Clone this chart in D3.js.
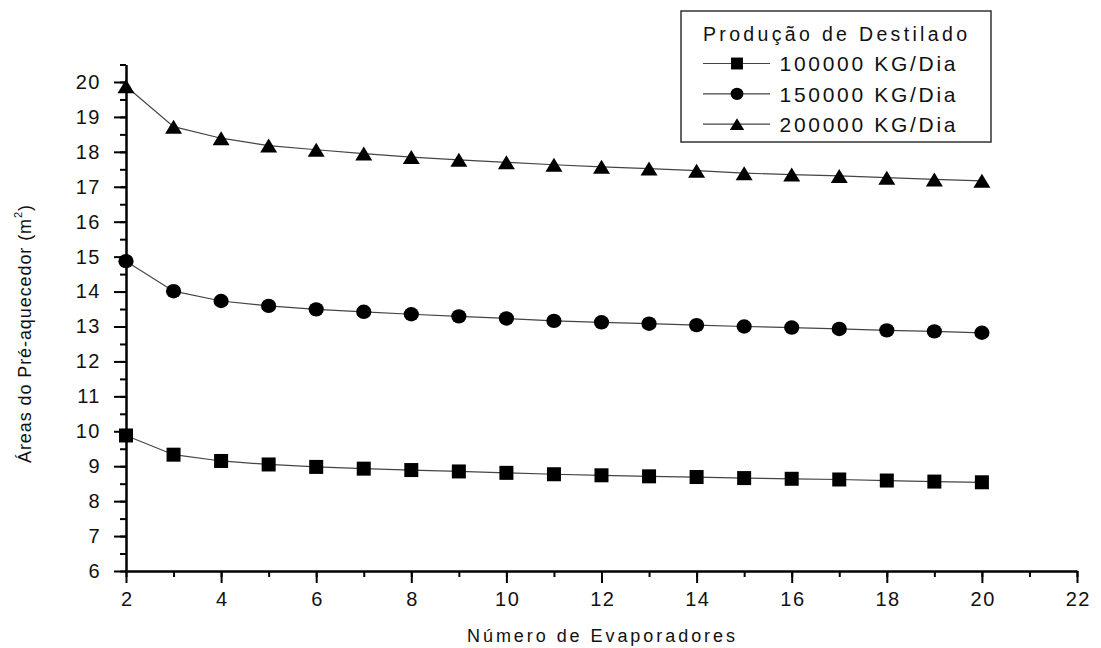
<!DOCTYPE html>
<html>
<head>
<meta charset="utf-8">
<script src="https://cdn.jsdelivr.net/npm/d3@7"></script>
<style>
  html, body { margin: 0; padding: 0; background: #fff; }
  svg { display: block; font-family: "Liberation Sans", Arial, sans-serif; }
</style>
</head>
<body>
<svg id="chart" width="1101" height="648"></svg>
<script>
// Número de evaporadores (eixo x)
const evaporadores = [2, 3, 4, 5, 6, 7, 8, 9, 10, 11, 12, 13, 14, 15, 16, 17, 18, 19, 20];

// Área do pré-aquecedor (m²) para cada produção de destilado
const area100000 = [9.88, 9.33, 9.15, 9.05, 8.98, 8.93, 8.89, 8.85, 8.81, 8.77, 8.74, 8.71, 8.69, 8.66, 8.64, 8.62, 8.59, 8.56, 8.54];
const area150000 = [14.87, 14.01, 13.73, 13.59, 13.49, 13.42, 13.35, 13.29, 13.23, 13.16, 13.12, 13.08, 13.04, 13.00, 12.97, 12.93, 12.89, 12.86, 12.82];
const area200000 = [19.88, 18.72, 18.39, 18.18, 18.06, 17.95, 17.85, 17.77, 17.70, 17.63, 17.57, 17.52, 17.46, 17.39, 17.35, 17.31, 17.26, 17.21, 17.17];

const seriesNames = ["100000 KG/Dia", "150000 KG/Dia", "200000 KG/Dia"];
const seriesShapes = ["square", "circle", "triangle"];
const legendTitle = "Produção de Destilado";

const xMajorTicks = [2, 4, 6, 8, 10, 12, 14, 16, 18, 20, 22];
const yMajorTicks = [6, 7, 8, 9, 10, 11, 12, 13, 14, 15, 16, 17, 18, 19, 20];

const series = [area100000, area150000, area200000].map((vals, i) => ({
  name: seriesNames[i],
  shape: seriesShapes[i],
  points: vals.map((v, j) => ({ x: evaporadores[j], y: v }))
}));

const svg = d3.select("#chart");
const left = 126, right = 1077, bottom = 571, yBottomVal = 6, yTopVal = 20.5;
const unit = 34.93;

const x = d3.scaleLinear().domain([2, 22]).range([left, right]);
const y = d3.scaleLinear().domain([yBottomVal, yTopVal]).range([bottom, bottom - (yTopVal - yBottomVal) * unit]);

svg.append("rect").attr("width", 1101).attr("height", 648).attr("fill", "#fff");

// Fits a text element to a target width by spreading its letters
function fitWidth(sel, target) {
  const node = sel.node();
  const n = node.textContent.length;
  const w = node.getComputedTextLength();
  const ls = (target - w) / Math.max(1, n - 1);
  sel.attr("letter-spacing", ls);
  return ls;
}

// Axes: minor ticks first, then major ticks with labels
const tickFont = 20;
function styleAxis(g) {
  g.selectAll("path.domain").attr("stroke", "#000").attr("stroke-width", 2);
  g.selectAll(".tick line").attr("stroke", "#000").attr("stroke-width", 2);
  g.selectAll("text").attr("fill", "#111").attr("font-size", tickFont)
    .attr("font-family", "Liberation Sans, Arial, sans-serif").attr("letter-spacing", 1.5);
}

const xMinor = svg.append("g").attr("transform", `translate(0,${bottom})`)
  .call(d3.axisBottom(x).tickValues(d3.range(2, 23, 1)).tickSize(6).tickSizeOuter(0).tickFormat(""));
styleAxis(xMinor);
const xMajor = svg.append("g").attr("transform", `translate(0,${bottom})`)
  .call(d3.axisBottom(x).tickValues(xMajorTicks).tickSize(12).tickSizeOuter(0).tickPadding(9).tickFormat(d3.format("d")));
styleAxis(xMajor);
xMajor.selectAll("text").attr("dx", "0.75");

const yMinor = svg.append("g").attr("transform", `translate(${left},0)`)
  .call(d3.axisLeft(y).tickValues(d3.range(6, 20.51, 0.5)).tickSize(6).tickSizeOuter(0).tickFormat(""));
styleAxis(yMinor);
const yMajor = svg.append("g").attr("transform", `translate(${left},0)`)
  .call(d3.axisLeft(y).tickValues(yMajorTicks).tickSize(12).tickSizeOuter(0).tickPadding(13).tickFormat(d3.format("d")));
styleAxis(yMajor);

// Marker drawing
function drawMarker(g, shape, cx, cy, scale) {
  const s = scale || 1;
  if (shape === "square") {
    const h = 7 * s;
    g.append("rect").attr("x", cx - h).attr("y", cy - h).attr("width", 2 * h).attr("height", 2 * h).attr("fill", "#000");
  } else if (shape === "circle") {
    g.append("ellipse").attr("cx", cx).attr("cy", cy).attr("rx", 7.6 * s).attr("ry", 7.2 * s).attr("fill", "#000");
  } else {
    const hw = 8.5 * s, hh = 7 * s;
    g.append("path").attr("d", `M${cx},${cy - hh}L${cx + hw},${cy + hh}L${cx - hw},${cy + hh}Z`).attr("fill", "#000");
  }
}

const line = d3.line().x(d => x(d.x)).y(d => y(d.y));
const plot = svg.append("g");
series.forEach(s => {
  plot.append("path").datum(s.points).attr("d", line)
    .attr("fill", "none").attr("stroke", "#444").attr("stroke-width", 1.2);
});
series.forEach(s => {
  const g = plot.append("g");
  s.points.forEach(p => drawMarker(g, s.shape, x(p.x), y(p.y)));
});

// Axis titles
const xTitle = svg.append("text").attr("x", 467).attr("y", 642)
  .attr("font-size", 18).attr("fill", "#111").text("Número de Evaporadores");
fitWidth(xTitle, 268);

const yTitle = svg.append("text").attr("transform", "translate(31,463) rotate(-90)")
  .attr("font-size", 18).attr("fill", "#111");
yTitle.append("tspan").text("Áreas do Pré-aquecedor (m");
yTitle.append("tspan").attr("font-size", 11).attr("dy", -9).text("2");
yTitle.append("tspan").attr("dy", 9).text(")");
fitWidth(yTitle, 258);

// Legend
const legend = svg.append("g");
legend.append("rect").attr("x", 681).attr("y", 11).attr("width", 310).attr("height", 131)
  .attr("fill", "#fff").attr("stroke", "#333").attr("stroke-width", 1.5);
const lt = legend.append("text").attr("x", 703).attr("y", 40.5).attr("font-size", 19.5).attr("fill", "#111").text(legendTitle);
fitWidth(lt, 264);

series.forEach((s, i) => {
  const cy = 63.5 + i * 30.3;
  legend.append("line").attr("x1", 703).attr("x2", 770).attr("y1", cy).attr("y2", cy)
    .attr("stroke", "#444").attr("stroke-width", 1.2);
  drawMarker(legend, s.shape, 737, cy, 0.85);
  const t = legend.append("text").attr("x", 779.5).attr("y", cy + 7.7).attr("font-size", 21).attr("fill", "#111").text(s.name);
  fitWidth(t, 176);
});
</script>
</body>
</html>
